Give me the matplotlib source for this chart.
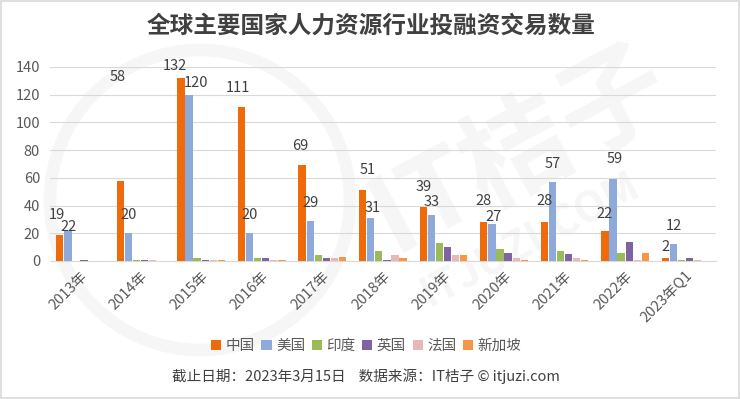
import numpy as np
import matplotlib
matplotlib.use("Agg")
import matplotlib.pyplot as plt
from matplotlib.patches import Circle, Rectangle

plt.rcParams['font.family'] = ['Noto Sans CJK SC', 'DejaVu Sans']

years = ['2013年', '2014年', '2015年', '2016年', '2017年', '2018年',
         '2019年', '2020年', '2021年', '2022年', '2023年Q1']
countries = ['中国', '美国', '印度', '英国', '法国', '新加坡']
china = [19, 58, 132, 111, 69, 51, 39, 28, 28, 22, 2]
usa = [22, 20, 120, 20, 29, 31, 33, 27, 57, 59, 12]
india = [0, 1, 2, 2, 4, 7, 13, 9, 7, 6, 1]
uk = [1, 1, 1, 2, 2, 1, 10, 6, 5, 14, 2]
france = [0, 1, 1, 1, 2, 4, 4, 2, 2, 1, 1]
singapore = [0, 0, 1, 1, 3, 2, 4, 1, 1, 6, 0]
colors = ['#EE6A0A', '#8EAADB', '#9BBB59', '#8064A2', '#E6B9B8', '#F79646']

# label nudges in pixels (Excel moved some labels around)
china_dx = [-3, -3, -6, -4, -2, 5, 0, 0, 0, 0, 0]
china_dy = [20, 104, 12, 19, 19, 20, 20, 21, 21, 17, 11]
usa_dx = [1, 0, 7, 0, 0, 2, 0, 2, 0, 2, 0]
usa_dy = [4, 18, 12, 18, 18, 10, 13, 7, 18, 20, 18]

fig = plt.figure(figsize=(7.4, 3.99), dpi=100)
fig.patch.set_facecolor('white')

# faint watermark in a background axes
bg = fig.add_axes([0, 0, 1, 1], zorder=-1)
bg.set_xlim(0, 740)
bg.set_ylim(399, 0)
bg.axis('off')
wm = '#f6f6f6'
bg.text(520, 150, 'IT桔子', fontsize=78, color=wm, rotation=28, ha='center',
        va='center', fontweight='bold')
bg.text(530, 240, 'ITJUZI.COM', fontsize=30, color=wm, rotation=28,
        ha='center', va='center', fontweight='bold')
bg.add_patch(Circle((200, 200), 150, fill=False, edgecolor=wm, linewidth=9))
bg.add_patch(Rectangle((1, 1), 738, 397, fill=False, edgecolor='#d9d9d9',
                       linewidth=1.2))

ax = fig.add_axes([0.0672, 0.3459, 0.9004, 0.4862])
ax.set_facecolor('none')

series = [china, usa, india, uk, france, singapore]
x = np.arange(len(years))
slot = 0.8 / len(series)
for i, (vals, c) in enumerate(zip(series, colors)):
    ax.bar(x - 0.4 + slot * (i + 0.5), vals, width=slot * 0.9, color=c,
           label=countries[i], zorder=3)

for j in range(len(years)):
    ax.annotate(str(china[j]), (x[j] - 0.4 + slot * 0.5, china[j]),
                xytext=(china_dx[j], china_dy[j]), textcoords='offset pixels',
                ha='center', va='center', fontsize=10.5, color='#404040', zorder=4)
    ax.annotate(str(usa[j]), (x[j] - 0.4 + slot * 1.5, usa[j]),
                xytext=(usa_dx[j], usa_dy[j]), textcoords='offset pixels',
                ha='center', va='center', fontsize=10.5, color='#404040', zorder=4)

ax.set_xlim(-0.5, len(years) - 0.5)
ax.set_ylim(0, 140)
ax.set_yticks(range(0, 141, 20))
ax.grid(axis='y', color='#d9d9d9', linewidth=0.8, zorder=0)
for s in ['top', 'right', 'left']:
    ax.spines[s].set_visible(False)
ax.spines['bottom'].set_color('#d9d9d9')
ax.tick_params(axis='both', length=0, labelsize=10.5, labelcolor='#595959')
ax.tick_params(axis='y', pad=7)
ax.set_xticks(x)
ax.set_xticklabels(years, rotation=45, ha='right', rotation_mode='anchor')
ax.tick_params(axis='x', pad=6)

fig.legend(loc='center', bbox_to_anchor=(0.495, 0.133), ncol=6, frameon=False,
           fontsize=10.5, handlelength=0.7, handleheight=0.7, handletextpad=0.3,
           columnspacing=0.45, labelcolor='#595959')

fig.text(0.502, 0.935, '全球主要国家人力资源行业投融资交易数量', ha='center', va='center',
         fontsize=17, fontweight='heavy', color='#404040')
fig.text(0.494, 0.056, '截止日期：2023年3月15日    数据来源：IT桔子 © itjuzi.com',
         ha='center', va='center', fontsize=10.5, color='#404040')

fig.savefig('out.png', dpi=100, facecolor='white')
